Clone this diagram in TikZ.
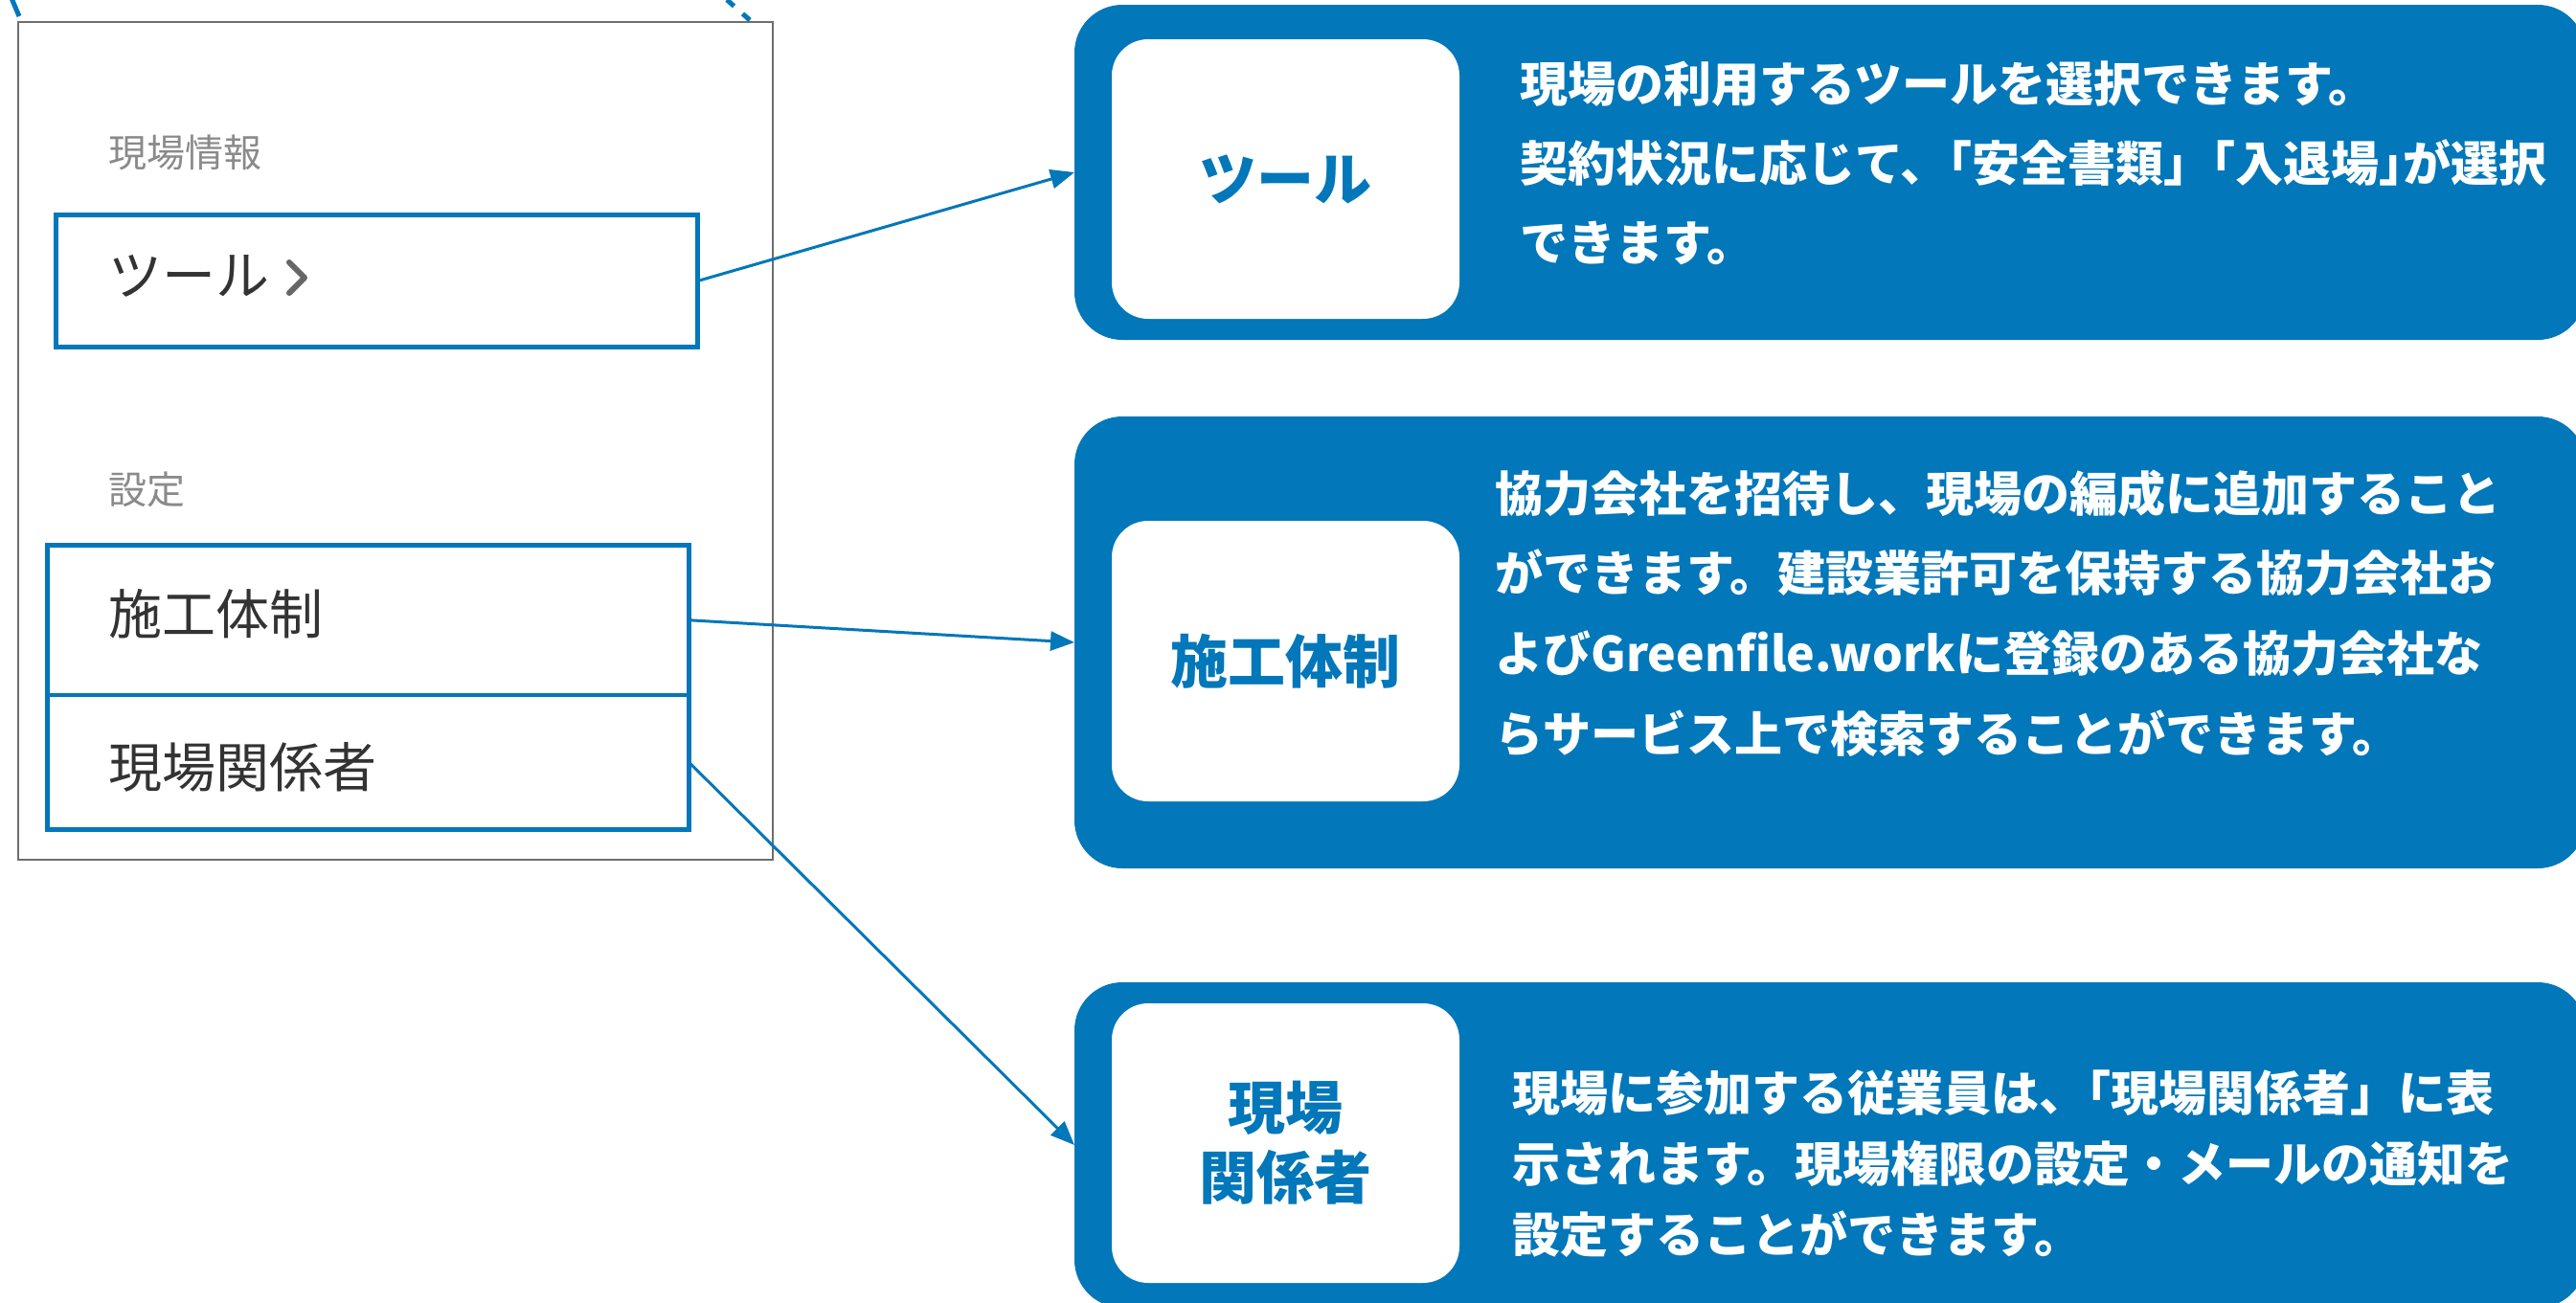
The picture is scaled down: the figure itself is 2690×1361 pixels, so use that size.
\documentclass[tikz,border=0pt]{standalone}
\usepackage{fontspec}
\newfontfamily\jp{Noto Sans CJK JP}
\usetikzlibrary{arrows.meta}
\definecolor{brand}{HTML}{0277BA}
\definecolor{paneline}{HTML}{6E6E6E}
\definecolor{labelgray}{HTML}{8A8A8A}
\definecolor{itemtext}{HTML}{333333}
\definecolor{chev}{HTML}{666666}
\begin{document}
\begin{tikzpicture}[x=0.5pt,y=-0.5pt,
  panel/.style={draw=paneline, line width=1pt, inner sep=0, outer sep=0, minimum width=394pt, minimum height=437.5pt},
  item/.style={draw=brand, line width=2.4pt, inner sep=0, outer sep=0, minimum width=335pt},
  section/.style={font=\jp\fontsize{20pt}{24pt}\selectfont, text=labelgray, anchor=west, inner sep=0},
  itemlabel/.style={font=\jp\fontsize{28pt}{32pt}\selectfont, text=itemtext, anchor=west, inner sep=0},
  card/.style={fill=brand, rounded corners=25pt, inner sep=0, outer sep=0, minimum width=789pt},
  tag/.style={fill=white, rounded corners=19pt, inner sep=0, outer sep=0, minimum width=181.5pt, minimum height=146pt, text=brand, font=\jp\bfseries\fontsize{30pt}{36.5pt}\selectfont, align=center},
  desc/.style={text=white, anchor=west, inner sep=0, align=left},
  link/.style={draw=brand, line width=1.5pt, -{Triangle[length=12.5pt,width=10pt]}},
  dashline/.style={draw=brand, line width=2.5pt},
]
\useasboundingbox (0,0) rectangle (2690,1361);

% right-hand cards
\node[card, minimum height=175pt] (d1) at (1911,180) {};
\node[card, minimum height=236pt] (d2) at (1911,671) {};
\node[card, minimum height=170pt] (d3) at (1911,1196) {};

\node[tag] (w1) at (1342.5,187) {ツール};
\node[tag, minimum height=146.5pt] (w2) at (1342.5,690.5) {施工体制};
\node[tag] (w3) at (1342.5,1194) {現場\\関係者};

\node[desc, font=\jp\bfseries\fontsize{25pt}{41.5pt}\selectfont] (t1) at (1587,170)
  {現場の利用するツールを選択できます。\\
   契約状況に応じて、\kern-0.5em「安全書類」\kern-0.5em「入退場」\kern-0.5emが選択\\
   できます。};
\node[desc, font=\jp\bfseries\fontsize{25pt}{41.8pt}\selectfont] (t2) at (1561,640.5)
  {協力会社を招待し、現場の編成に追加すること\\
   ができます。建設業許可を保持する協力会社お\\
   よびGreenfile.workに登録のある協力会社な\\
   らサービス上で検索することができます。};
\node[desc, font=\jp\bfseries\fontsize{25pt}{37pt}\selectfont] (t3) at (1579,1216)
  {現場に参加する従業員は、\kern-0.5em「現場関係者」に表\\
   示されます。現場権限の設定・メールの通知を\\
   設定することができます。};

% left panel
\node[panel] (panel) at (413,460.5) {};
\node[item, minimum height=69pt] (tool) at (393.5,293.5) {};
\node[item, minimum height=78.25pt] (sekou) at (384.5,647.75) {};
\node[item, minimum height=70.25pt] (kankei) at (384.5,796.25) {};

\node[section] (s1) at (113,159) {現場情報};
\node[itemlabel] (l1) at (113,288) {ツール};
\draw[chev, line width=3pt, line cap=round, line join=round] (302,274) -- (318,290) -- (302,306);
\node[section] (s2) at (113,511) {設定};
\node[itemlabel] (l2) at (113,641) {施工体制};
\node[itemlabel] (l3) at (113,801) {現場関係者};

% connectors
\draw[link] (tool.east) -- (d1.west);
\draw[link] (sekou.east) -- (d2.west);
\draw[link] (kankei.east) -- (d3.west);

% cut-off dashed pieces at the top
\coordinate (dA1) at (12,-2);
\coordinate (dA2) at (20,17);
\draw[dashline] (dA1) -- (dA2);
\coordinate (dB1) at (783,21);
\coordinate (dB2) at (748,-10);
\draw[dashline, dash pattern=on 5pt off 6pt] (dB1) -- (dB2);
\end{tikzpicture}
\end{document}
